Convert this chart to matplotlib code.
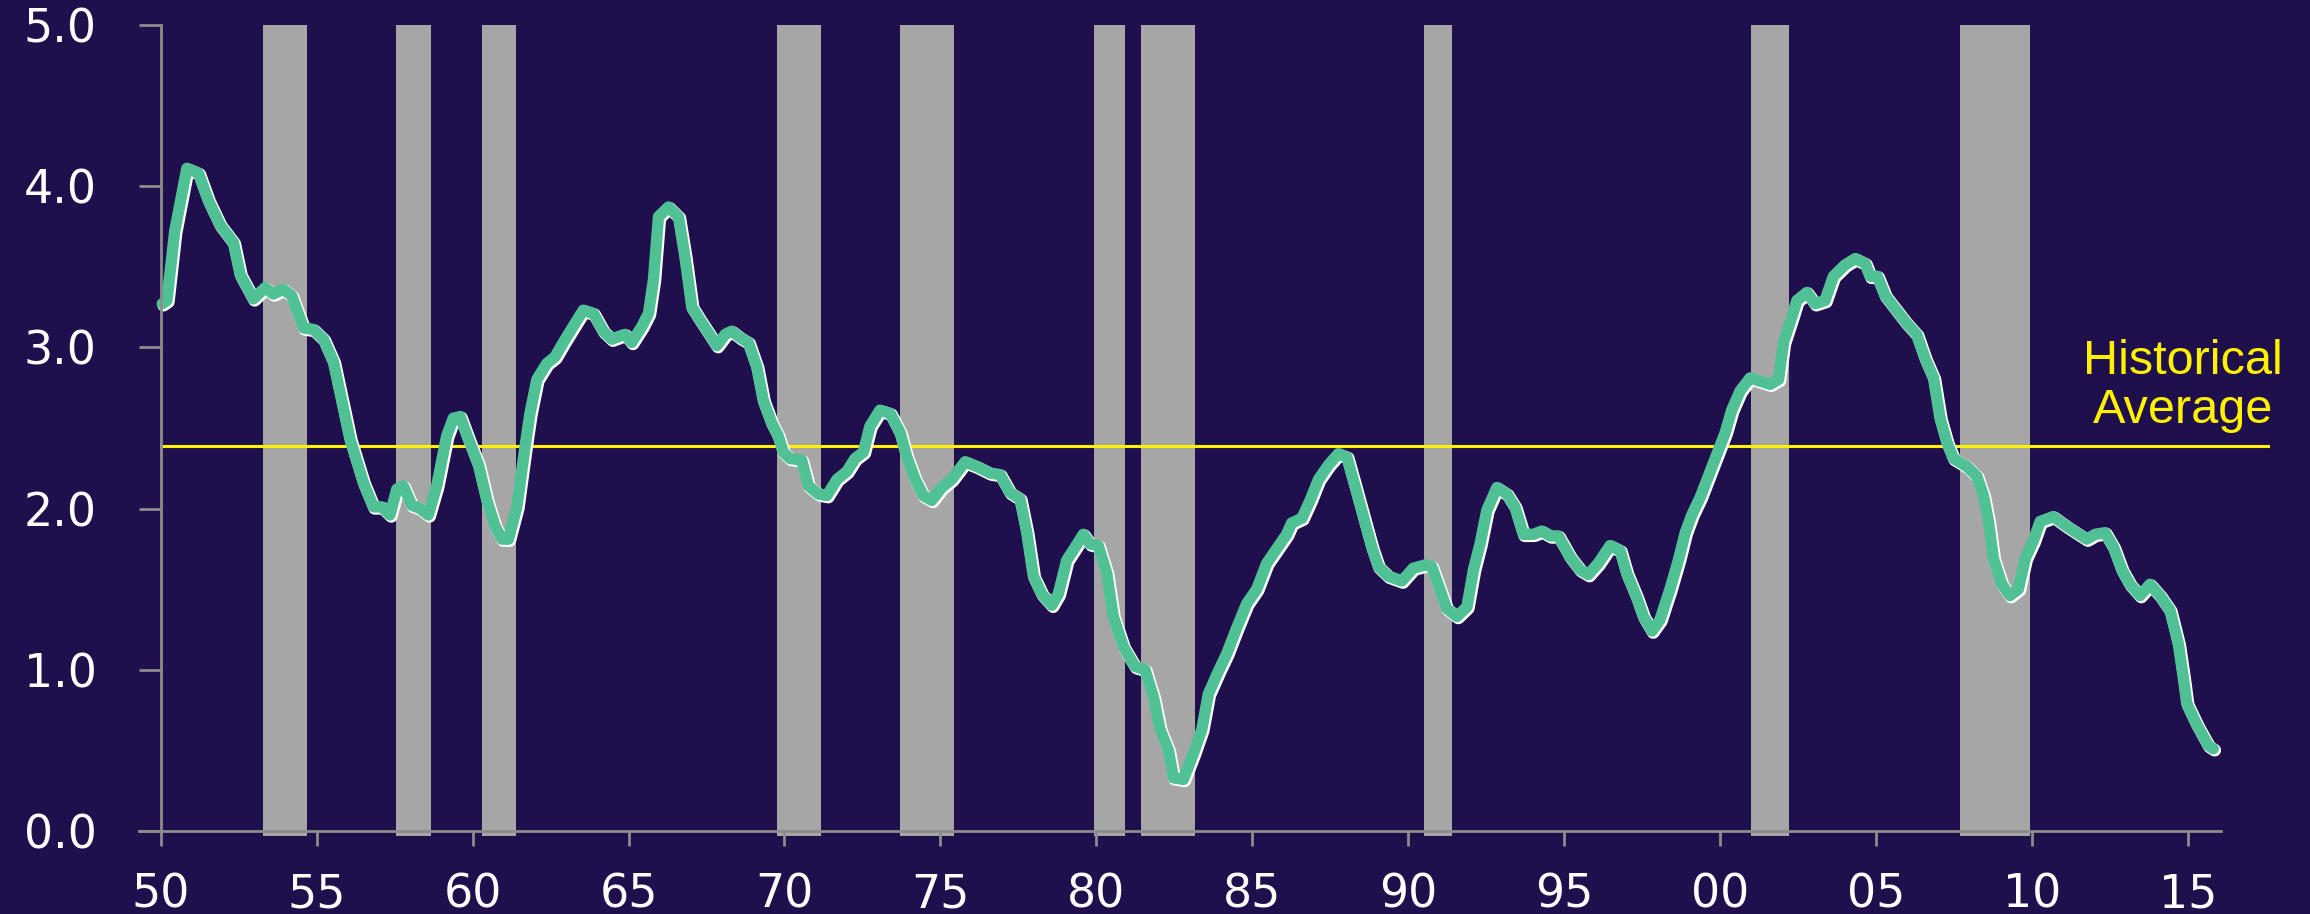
import matplotlib
matplotlib.use("Agg")
import matplotlib.pyplot as plt
import matplotlib.patheffects as pe

# ratio series
years = [1950.05, 1950.2, 1950.45, 1950.84, 1951.21, 1951.53, 1951.90, 1952.33, 1952.55, 1952.97,
         1953.35, 1953.61, 1953.93, 1954.20, 1954.58, 1954.90, 1955.22, 1955.54, 1955.75, 1956.07,
         1956.50, 1956.82, 1957.09, 1957.35, 1957.57, 1957.78, 1958.05, 1958.32, 1958.58, 1958.85,
         1959.17, 1959.38, 1959.60, 1959.87, 1960.19, 1960.46, 1960.72, 1960.94, 1961.15, 1961.42,
         1961.68, 1961.84, 1962.06, 1962.38, 1962.64, 1962.91, 1963.29, 1963.55, 1963.87, 1964.19,
         1964.46, 1964.73, 1964.89, 1965.10, 1965.43, 1965.64, 1965.80, 1965.96, 1966.28, 1966.60,
         1966.81, 1967.03, 1967.29, 1967.56, 1967.83, 1968.10, 1968.31, 1968.58, 1968.84, 1969.11,
         1969.32, 1969.59, 1969.80, 1969.96, 1970.18, 1970.55, 1970.77, 1971.09, 1971.36, 1971.68,
         1972.00, 1972.26, 1972.53, 1972.74, 1973.06, 1973.39, 1973.71, 1973.92, 1974.19, 1974.45,
         1974.72, 1975.04, 1975.36, 1975.79, 1976.17, 1976.59, 1976.91, 1977.23, 1977.55, 1977.77,
         1977.98, 1978.25, 1978.57, 1978.78, 1979.05, 1979.32, 1979.58, 1979.80, 1980.06, 1980.33,
         1980.54, 1980.87, 1981.24, 1981.56, 1981.83, 1982.04, 1982.31, 1982.47, 1982.79, 1983.11,
         1983.38, 1983.59, 1983.91, 1984.18, 1984.50, 1984.82, 1985.14, 1985.46, 1985.78, 1986.10,
         1986.26, 1986.59, 1986.85, 1987.12, 1987.44, 1987.76, 1988.03, 1988.29, 1988.56, 1988.83,
         1989.04, 1989.36, 1989.79, 1990.16, 1990.54, 1990.75, 1990.97, 1991.23, 1991.56, 1991.88,
         1992.09, 1992.30, 1992.52, 1992.84, 1993.16, 1993.42, 1993.69, 1994.01, 1994.28, 1994.55,
         1994.81, 1995.19, 1995.51, 1995.77, 1996.09, 1996.47, 1996.79, 1997.00, 1997.32, 1997.54,
         1997.81, 1998.07, 1998.39, 1998.66, 1998.88, 1999.09, 1999.36, 1999.68, 1999.94, 2000.16,
         2000.37, 2000.64, 2000.96, 2001.28, 2001.60, 2001.87, 2002.03, 2002.30, 2002.46, 2002.78,
         2003.04, 2003.36, 2003.63, 2004.00, 2004.33, 2004.65, 2004.81, 2005.04, 2005.29, 2005.61,
         2005.93, 2006.30, 2006.57, 2006.84, 2007.05, 2007.27, 2007.48, 2007.91, 2008.23, 2008.44,
         2008.60, 2008.76, 2009.03, 2009.29, 2009.56, 2009.78, 2010.04, 2010.26, 2010.68, 2011.11,
         2011.43, 2011.75, 2012.02, 2012.34, 2012.61, 2012.88, 2013.14, 2013.46, 2013.78, 2014.10,
         2014.42, 2014.69, 2014.85, 2014.96, 2015.28, 2015.65, 2015.81]
ratio = [3.27, 3.29, 3.72, 4.11, 4.08, 3.91, 3.76, 3.65, 3.45, 3.30,
         3.37, 3.33, 3.36, 3.32, 3.12, 3.11, 3.05, 2.91, 2.72, 2.43,
         2.16, 2.01, 2.01, 1.96, 2.12, 2.14, 2.02, 2.00, 1.96, 2.14,
         2.45, 2.56, 2.57, 2.43, 2.27, 2.05, 1.89, 1.81, 1.81, 2.01,
         2.38, 2.59, 2.80, 2.90, 2.94, 3.03, 3.15, 3.23, 3.21, 3.10,
         3.05, 3.07, 3.08, 3.03, 3.13, 3.21, 3.42, 3.81, 3.87, 3.81,
         3.56, 3.25, 3.17, 3.09, 3.01, 3.08, 3.10, 3.06, 3.03, 2.88,
         2.67, 2.53, 2.45, 2.35, 2.31, 2.30, 2.14, 2.09, 2.08, 2.18,
         2.23, 2.31, 2.35, 2.51, 2.61, 2.59, 2.47, 2.32, 2.18, 2.08,
         2.05, 2.13, 2.18, 2.29, 2.26, 2.22, 2.21, 2.10, 2.06, 1.85,
         1.58, 1.47, 1.40, 1.47, 1.68, 1.76, 1.84, 1.78, 1.77, 1.60,
         1.33, 1.14, 1.02, 1.00, 0.83, 0.63, 0.50, 0.33, 0.32, 0.48,
         0.63, 0.85, 0.99, 1.10, 1.26, 1.41, 1.50, 1.66, 1.75, 1.84,
         1.91, 1.94, 2.05, 2.18, 2.27, 2.34, 2.32, 2.14, 1.95, 1.76,
         1.64, 1.58, 1.55, 1.63, 1.65, 1.64, 1.52, 1.38, 1.33, 1.39,
         1.62, 1.78, 1.99, 2.13, 2.09, 2.01, 1.84, 1.84, 1.86, 1.83,
         1.83, 1.70, 1.62, 1.59, 1.66, 1.77, 1.74, 1.60, 1.45, 1.33,
         1.24, 1.31, 1.50, 1.68, 1.85, 1.96, 2.07, 2.23, 2.36, 2.47,
         2.61, 2.73, 2.81, 2.79, 2.77, 2.80, 3.03, 3.19, 3.29, 3.34,
         3.27, 3.29, 3.44, 3.51, 3.55, 3.52, 3.44, 3.44, 3.32, 3.24,
         3.16, 3.08, 2.93, 2.81, 2.56, 2.41, 2.31, 2.26, 2.20, 2.08,
         1.92, 1.69, 1.53, 1.46, 1.50, 1.69, 1.80, 1.92, 1.95, 1.89,
         1.85, 1.81, 1.84, 1.85, 1.76, 1.62, 1.53, 1.46, 1.53, 1.46,
         1.37, 1.16, 0.95, 0.79, 0.66, 0.53, 0.51]

# recessions (start, end)
rec_start = [1953.27, 1957.54, 1960.29, 1969.75, 1973.71, 1979.93, 1981.44, 1990.49, 2000.98, 2007.69]
rec_end = [1954.68, 1958.66, 1961.39, 1971.16, 1975.44, 1980.93, 1983.17, 1991.41, 2002.20, 2009.93]

hist_avg = 2.385
xtick_pos = [1950, 1955, 1960, 1965, 1970, 1975, 1980, 1985, 1990, 1995, 2000, 2005, 2010, 2015]
xtick_lab = ['50', '55', '60', '65', '70', '75', '80', '85', '90', '95', '00', '05', '10', '15']
ytick_pos = [0.0, 1.0, 2.0, 3.0, 4.0, 5.0]

bg = '#1F0F4D'
fig = plt.figure(figsize=(23.1, 9.14), dpi=100, facecolor=bg)
ax = fig.add_axes([0.0601, 0.0908, 0.9222, 0.8821], facecolor=bg)

# recession shading
widths = [e - s for s, e in zip(rec_start, rec_end)]
ax.bar(rec_start, 5.03, width=widths, bottom=-0.03, align='edge', color='#A6A6A6',
       linewidth=0, zorder=1, clip_on=False)

# historical average
ax.plot([1950, 2017.55], [hist_avg, hist_avg], color='#FFF200', lw=2.2, zorder=2, clip_on=False)
ax.text(2014.85, 2.76, 'Historical\nAverage', color='#FFF200', fontsize=35,
        family='Liberation Sans', ha='center', va='center', multialignment='center',
        linespacing=1.1, zorder=4)

# ratio line with white edge
ax.plot(years, ratio, color='#50C095', lw=8.2, zorder=3, solid_joinstyle='round',
        solid_capstyle='round',
        path_effects=[pe.Stroke(offset=(1.0, -1.0), linewidth=9.2, foreground='white'),
                      pe.Normal()])

ax.set_xlim(1949.3, 2017.6)
ax.set_ylim(0, 5)

for s in ['top', 'right']:
    ax.spines[s].set_visible(False)
ax.spines['left'].set_position(('data', 1950))
ax.spines['bottom'].set_bounds(1949.3, 2016.07)
for s in ['left', 'bottom']:
    ax.spines[s].set_color('#8C8C8C')
    ax.spines[s].set_linewidth(2)
    ax.spines[s].set_zorder(5)

ax.set_xticks(xtick_pos)
ax.set_xticklabels(xtick_lab)
ax.set_yticks(ytick_pos)
ax.set_yticklabels(['%.1f' % v for v in ytick_pos])
ax.tick_params(axis='x', direction='out', length=11, width=2, color='#8C8C8C',
               labelcolor='white', labelsize=33, pad=19)
ax.tick_params(axis='y', direction='out', length=16, width=2, color='#8C8C8C',
               labelcolor='white', labelsize=33, pad=30)

fig.savefig('out.png', dpi=100, facecolor=bg)
